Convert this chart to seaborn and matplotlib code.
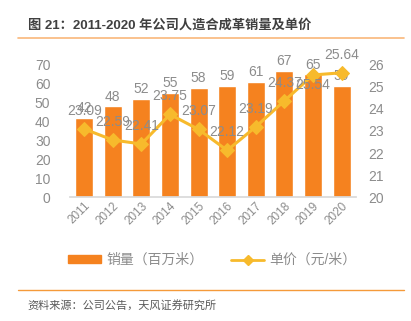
import matplotlib
matplotlib.use("Agg")
import matplotlib.pyplot as plt
import seaborn as sns
import numpy as np
import pandas as pd
from matplotlib.lines import Line2D
from matplotlib.patches import Patch

years = ["2011", "2012", "2013", "2014", "2015", "2016", "2017", "2018", "2019", "2020"]
volume = [42, 48, 52, 55, 58, 59, 61, 67, 65, 59]
price = [23.09, 22.59, 22.41, 23.75, 23.07, 22.12, 23.19, 24.37, 25.54, 25.64]
left_ticks = [0, 10, 20, 30, 40, 50, 60, 70]
right_ticks = [20, 21, 22, 23, 24, 25, 26]

title = "图 21：2011-2020 年公司人造合成革销量及单价"
source = "资料来源：公司公告，天风证券研究所"
bar_label = "销量（百万米）"
line_label = "单价（元/米）"

sns.set_theme(style="white")
plt.rcParams['font.family'] = ['Liberation Sans', 'Noto Sans CJK SC', 'DejaVu Sans']

BAR = "#F5821F"
LINE = "#F7BA2C"
GREY = "#8C8C8C"

fig = plt.figure(figsize=(4.11, 3.21), dpi=100)
ax = fig.add_axes([0.170, 0.386, 0.696, 0.412])

df = pd.DataFrame({"year": years, "volume": volume, "price": price})
sns.barplot(data=df, x="year", y="volume", color=BAR, saturation=1, width=0.63, ax=ax)
ax.set_xlim(-0.5, len(years) - 0.5)
ax.set_ylim(0, 70)
ax.set_yticks(left_ticks)
ax.set_xlabel("")
ax.set_ylabel("")

ax2 = ax.twinx()
xs = np.arange(len(years))
sns.lineplot(x=xs, y=price, ax=ax2, color=LINE, marker="D", markersize=7,
             markeredgecolor=LINE, linewidth=2.2)
ax2.set_ylim(20, 26)
ax2.set_yticks(right_ticks)
ax2.set_xlim(-0.5, len(years) - 0.5)

for a in (ax, ax2):
    for s in a.spines.values():
        s.set_visible(False)
    a.tick_params(length=0, colors=GREY, labelsize=10)
ax.spines['bottom'].set_visible(True)
ax.spines['bottom'].set_color("#D9D9D9")
ax.tick_params(axis='y', pad=14)
ax2.tick_params(axis='y', pad=9)
ax.tick_params(axis='x', labelsize=8.5, pad=2)
for lbl in ax.get_xticklabels():
    lbl.set_rotation(45)
    lbl.set_ha('right')
    lbl.set_rotation_mode('anchor')

for i, v in enumerate(volume):
    ax.annotate(str(v), (i, v), xytext=(0, 2), textcoords="offset points",
                ha="center", va="bottom", color=GREY, fontsize=10)
for i, p in enumerate(price):
    if i == 8:
        ax2.annotate(f"{p:.2f}", (i, p), xytext=(0, -7), textcoords="offset points",
                     ha="center", va="center", color=GREY, fontsize=10)
    else:
        ax2.annotate(f"{p:.2f}", (i, p), xytext=(0, 13), textcoords="offset points",
                     ha="center", va="center", color=GREY, fontsize=10)

handles = [Patch(facecolor=BAR, edgecolor=BAR),
           Line2D([0], [0], color=LINE, marker="D", markersize=5, linewidth=2)]
leg = fig.legend(handles, [bar_label, line_label], loc="center left",
                 bbox_to_anchor=(0.165, 0.19),
                 ncol=2, frameon=False, fontsize=10, labelcolor=GREY, handlelength=2.4,
                 handleheight=0.5, columnspacing=2.0, handletextpad=0.35, borderpad=0,
                 borderaxespad=0)

fig.text(0.068, 0.922, title, fontsize=9.5, color="#404040", fontweight="semibold", va="center")
fig.add_artist(Line2D([0.044, 0.983], [0.882, 0.882], color="#F9B77A", linewidth=1.2))
fig.add_artist(Line2D([0.044, 0.983], [0.097, 0.097], color="#F59A3A", linewidth=1.0))
fig.text(0.066, 0.05, source, fontsize=8, color="#595959", va="center")

fig.savefig("out.png", dpi=100)
